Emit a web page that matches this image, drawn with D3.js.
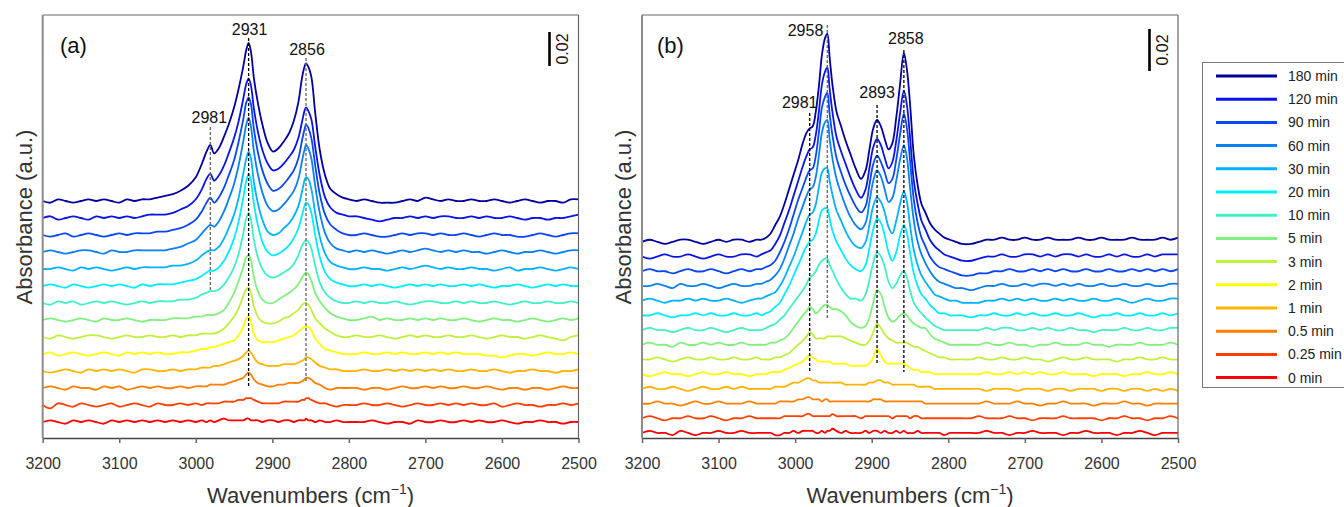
<!DOCTYPE html>
<html><head><meta charset="utf-8">
<script src="https://cdn.jsdelivr.net/npm/d3@7"></script>
<style>body{margin:0;background:#fff}svg{display:block;font-family:"Liberation Sans",Arial,sans-serif}</style>
</head><body>
<svg id="c" width="1344" height="507"></svg>
<script>
// ---------- DATA (absorbance in 0.001 units, relative to each trace's own baseline) ----------
const times = ["0 min","0.25 min","0.5 min","1 min","2 min","3 min","5 min","10 min","20 min","30 min","60 min","90 min","120 min","180 min"];
const colors = ["#ff0000","#ff4000","#ff8000","#ffb400","#ffff00","#bff03c","#80f07e","#40f0c6","#00ecff","#00b2ff","#0a80f5","#0a46f5","#0a14e6","#0000a0"];
const xTicks = [3200,3100,3000,2900,2800,2700,2600,2500];

const wnA = [3200,3190,3180,3170,3160,3150,3140,3130,3120,3110,3100,3090,3080,3070,3060,3050,
 3040,3030,3020,3010,3000,2992,2986,2981,2976,2970,2963,2957,2950,2944,2938,2934,2931,2928,2924,2919,
 2913,2906,2899,2892,2885,2878,2872,2866,2861,2858,2856,2853,2849,2844,2838,2831,2824,2816,2808,2800,
 2790,2780,2770,2760,2750,2740,2730,2720,2710,2700,2690,2680,2670,2660,2650,2640,2630,2620,2610,2600,
 2590,2580,2570,2560,2550,2540,2530,2520,2510,2500];

const a0 = [0,1,0,-1,1,0,1,0,-1,1,0,1,0,1,0,1,
 0,1,0,1,0,1,0,1,0,1, 2,1,1,1,1,2,2,1,1,1, 0,1,1,0,1,1,0,1,1,1, 2,1,1,0,1,0,0,1,0,0,
 0,0,1,0,-1,0,0,-1,1,0, 0,1,0,0,1,0,1,0,0,1, 0,-1,0,0,1,0,0,-1,0,0];
const a025 = [0,-2,1,0,-1,1,0,-1,0,1,-1,0,1,0,-1,1,
 0,0,1,0,1,0,1,1,1,1, 2,2,2,3,3,4,4,4,3,2, 1,1,1,1,2,2,2,2,3,3, 4,4,3,2,1,1,0,-1,0,0,
 0,1,0,0,1,0,-1,0,1,0, 0,1,0,1,0,1,0,0,1,-1, 0,1,0,0,-1,0,0,1,0,1];
const a05 = [0,1,0,-1,1,0,0,-1,1,0,1,-1,0,1,0,1,
 0,0,1,0,1,1,1,2,2,2, 2,3,4,5,6,8,9,8,5,3, 2,1,1,2,2,3,3,3,4,5, 6,6,5,3,2,0,-1,0,0,0,
 0,-1,0,0,-1,0,1,0,0,1, 0,1,0,0,1,0,0,1,0,-1, 0,0,-1,0,0,-1,0,1,0,0];
const a1 = [0,-1,0,1,0,-1,1,0,1,0,1,0,-1,1,1,0,
 0,1,0,1,1,2,2,2,3,3, 4,5,6,7,9,11,12,11,8,5, 4,3,3,3,4,4,4,5,6,7, 8,8,7,5,3,2,1,1,0,0,
 0,1,0,0,1,0,1,0,1,0, 1,0,1,0,0,1,0,0,1,0, -1,0,0,1,0,0,-1,0,0,1];
const a2 = [0,1,-1,0,1,0,-1,0,1,0,-1,1,0,1,0,1,
 0,0,1,1,2,3,3,4,4,5, 6,7,8,11,16,21,22,19,12,8, 7,7,7,8,9,10,11,13,15,16, 16,16,14,9,6,3,2,1,0,0,
 0,1,0,0,1,0,1,0,0,1, 0,1,0,1,0,0,0,-1,-1,-2, -1,0,0,-1,0,1,0,0,1,0];
const a3 = [0,-1,1,0,-1,0,1,1,0,-1,0,1,0,0,1,0,
 0,1,0,1,1,2,2,2,2,3, 5,8,12,17,24,28,29,26,18,12, 9,8,8,9,11,12,14,16,19,20, 20,19,16,11,8,5,3,1,0,0,
 1,0,0,1,0,-1,0,1,0,1, 0,0,1,0,0,1,0,-1,0,1, 0,0,-1,0,1,0,-1,-2,0,1];
const a5 = [0,1,0,-1,0,1,0,-1,1,0,0,1,0,-1,0,0,
 0,1,1,1,2,2,3,3,3,4, 6,10,16,23,31,37,38,35,25,17, 12,10,10,12,14,16,18,21,25,27, 28,27,23,16,11,7,4,2,1,0,
 0,1,2,0,1,0,0,1,0,1, 0,1,0,0,1,0,-1,0,1,0, 0,-1,0,1,0,-1,0,1,0,1];
const a10 = [0,-1,1,0,1,-1,0,1,0,1,0,-1,0,1,0,1,
 1,1,2,2,3,5,6,7,7,8, 11,15,21,29,41,50,53,49,37,27, 20,16,15,16,18,20,23,28,34,36, 37,36,32,22,12,6,3,1,0,0,
 1,0,1,0,0,1,0,-1,0,1, 1,0,0,1,0,1,0,0,1,0, -1,0,1,0,0,1,0,0,1,0];
const a20 = [0,1,0,-1,1,0,-1,0,1,0,1,0,-1,1,0,1,
 1,1,2,3,4,6,8,9,9,11, 15,20,28,38,52,62,66,62,48,36, 26,20,18,19,21,24,28,34,42,47, 49,48,43,30,17,8,4,2,1,0,
 0,1,0,1,0,-1,0,1,0,1, 0,1,0,0,1,0,1,0,-1,0, 0,1,0,-1,0,1,0,1,0,0];
const a30 = [0,0,1,0,-1,1,0,1,0,-1,0,1,0,1,1,1,
 1,2,2,3,5,8,10,11,11,13, 18,24,32,42,56,65,69,65,51,39, 29,22,20,21,24,27,31,37,46,52, 54,53,47,33,19,9,4,2,1,0,
 0,1,0,0,-1,0,1,0,1,2, 1,0,1,0,0,1,0,0,-1,0, 1,-1,0,0,1,0,-1,0,1,0];
const a60 = [0,1,0,-1,0,1,1,0,-1,1,0,0,1,1,1,1,
 1,2,3,5,7,11,14,16,15,18, 24,31,40,51,65,75,79,74,59,46, 35,27,24,25,28,32,36,43,54,60, 63,61,55,39,23,11,5,2,1,0,
 1,0,1,0,-1,0,1,0,1,2, 1,0,1,0,1,0,0,-1,0,1, 0,-1,0,0,1,0,-1,0,1,1];
const a90 = [0,-1,0,1,-1,0,1,0,-1,0,1,0,1,1,1,2,
 2,3,4,6,9,14,19,22,19,22, 28,35,44,55,68,78,81,77,62,49, 38,30,26,27,30,34,38,45,56,62, 65,63,57,41,24,12,6,3,1,0,
 0,1,0,-1,-1,0,1,0,1,1, 0,1,0,0,1,0,-1,0,1,0, 0,-1,-1,0,1,0,-1,0,1,1];
const a120 = [0,1,-1,0,1,0,-1,1,0,1,0,1,0,1,2,2,
 2,3,5,7,11,17,23,26,22,25, 31,38,47,57,70,79,82,78,64,51, 40,32,28,29,32,36,40,47,57,63, 65,63,58,42,25,12,6,3,2,1,
 1,0,-1,-2,-1,0,0,1,0,1, 0,1,1,0,0,1,0,1,0,0, 1,0,-1,0,0,-1,0,0,1,2];
const a180 = [0,-1,1,0,-1,0,1,0,1,0,-1,1,0,1,1,2,
 3,4,6,9,14,22,29,33,28,31, 38,45,55,66,79,89,93,88,72,58, 45,34,29,31,35,40,47,58,73,79, 81,79,73,52,30,15,7,4,2,1,
 0,1,0,-1,-1,-1,0,1,0,2, 1,0,1,0,0,1,0,0,1,0, -1,0,1,0,-1,0,0,-1,1,1];

const wnB = [3200,3190,3180,3170,3160,3150,3140,3130,3120,3110,3100,3090,3080,3070,3060,3050,
 3044,3038,3032,3026,3020,3014,3008,3002,2996,2990, 2985,2981,2977,2973,2969,2965,2961,2958,2955,2951,
 2946,2940,2934,2928,2921,2914,2908,2903,2898,2893, 2888,2883,2878,2873,2868,2863,2858,2854,2850,2845,
 2840,2835,2830,2824,2818,2812,2805,2798,2790,2782,
 2770,2760,2750,2740,2730,2720,2710,2700,2690,2680,2670,2660,2650,2640,2630,2620,2610,2600,
 2590,2580,2570,2560,2550,2540,2530,2520,2510,2500];

const b0 = [0,1,0,0,-1,1,0,-1,0,0,1,0,0,1,0,0,
 0,0,0,-1,-1,0,0,1,0,1, 1,1,1,0,0,1,0,1,1,2, 1,0,1,0,0,0,1,0,1,1, 0,1,0,0,1,0,1,0,0,0, 1,0,0,0,0,0,-1,0,0,0,
 0,0,1,0,0,-1,0,0,1,0, 0,0,-1,0,0,1,0,0,0,-1, 0,0,1,0,-1,0,0,0];
const b025 = [0,1,0,-1,0,0,1,0,0,1,0,-1,0,0,1,0,
 0,0,0,0,0,1,1,1,1,1, 2,2,1,1,1,1,1,1,1,2, 1,1,1,1,1,0,1,1,1,1, 1,1,1,0,1,1,1,1,0,1, 1,0,0,0,0,0,0,0,0,0,
 0,1,0,0,0,1,0,0,-1,0, 0,0,1,0,0,0,0,-1,0,0, 1,0,0,-1,0,0,1,0];
const b05 = [0,0,1,0,0,-1,0,1,0,0,1,0,0,0,1,0,
 0,0,0,0,1,1,1,1,2,2, 3,3,2,2,2,1,2,2,1,1, 1,1,1,1,1,1,1,1,2,2, 2,1,1,1,1,1,1,1,1,1, 1,1,0,0,0,0,0,0,0,0,
 0,0,1,0,0,0,1,0,0,-1, 0,0,1,0,0,0,-1,0,0,0, 1,0,0,-1,0,0,0,0];
const b1 = [0,1,0,0,1,0,-1,0,1,0,0,1,0,1,0,0,
 0,0,0,1,1,1,2,3,3,4, 5,5,4,4,3,3,3,3,3,3, 3,3,2,2,2,2,2,3,3,4, 4,3,3,2,2,2,2,2,2,2, 1,1,1,1,0,0,0,0,0,0,
 0,0,-1,0,0,0,-1,0,0,0, -1,0,0,-1,0,0,0,-1,0,0, -1,0,0,-1,0,-1,0,-1];
const b2 = [0,-1,0,1,0,0,-1,0,1,0,0,1,0,0,-1,0,
 0,0,1,1,1,2,3,4,5,6, 8,9,8,7,6,6,6,6,6,5, 5,5,5,4,4,4,4,5,8,12, 9,6,5,5,5,5,5,4,3,2, 2,1,1,1,0,0,0,0,0,0,
 0,0,1,0,0,1,0,1,0,1, 0,0,1,0,0,0,-1,0,0,0, -1,0,0,1,0,0,1,0];
const b3 = [0,0,1,0,-1,0,1,0,0,1,0,0,1,0,0,1,
 0,0,0,1,1,2,3,5,7,9, 11,13,12,10,10,10,10,11,11,11, 11,11,10,9,8,7,7,9,13,17, 15,12,10,9,8,8,8,8,7,6, 6,5,4,3,2,1,1,0,0,0,
 0,1,0,0,1,0,0,1,0,0, -1,0,1,0,0,1,0,0,0,-1, 0,0,1,0,0,1,0,0];
const b5 = [0,1,0,0,-1,1,0,0,1,0,1,0,0,1,0,0,
 0,0,1,1,2,3,5,8,11,14, 16,18,17,15,16,18,19,19,18,17, 17,16,14,11,9,8,9,13,20,26, 24,18,13,11,12,14,15,14,12,10, 9,8,8,5,3,2,1,0,0,0,
 0,0,1,0,0,1,0,0,-1,0, 0,1,0,0,0,1,0,0,-1,0, 0,0,1,0,0,0,1,0];
const b10 = [0,1,0,0,-1,0,1,0,0,1,0,-1,0,1,0,0,
 0,1,2,3,5,7,10,13,16,19, 22,25,26,28,31,33,34,34,31,28, 24,20,17,15,15,14,17,24,32,37, 35,30,23,20,22,26,28,25,19,13, 10,8,6,4,2,1,0,0,0,0,
 0,0,1,0,1,1,0,0,1,0, 1,0,0,1,0,0,-1,0,0,0, 1,0,0,1,0,0,1,1];
const b20 = [0,0,1,0,-1,0,0,1,0,1,0,0,1,0,0,1,
 0,1,2,4,6,10,14,19,24,29, 33,35,36,39,45,50,51,51,46,40, 35,31,27,24,22,21,24,32,41,46, 44,38,30,26,30,38,43,39,30,20, 14,10,8,5,3,1,1,0,0,0,
 -1,0,0,1,0,0,1,0,1,0, 0,1,0,0,1,0,-1,0,0,1, 0,0,1,0,0,1,0,1];
const b30 = [0,1,0,-1,0,0,1,0,1,0,0,1,0,-1,0,1,
 1,2,3,4,7,11,16,21,27,33, 38,41,42,46,54,61,63,63,57,50, 43,38,33,29,26,25,28,36,45,49, 47,42,35,32,38,46,52,47,36,24, 17,12,9,6,3,2,1,0,0,-1,
 -1,-1,0,0,1,0,1,0,1,0, 0,1,0,1,0,0,1,0,0,1, 0,-1,0,1,0,0,1,1];
const b60 = [0,0,1,0,-1,1,0,0,1,0,-1,0,1,0,0,1,
 1,2,3,5,8,13,19,25,32,38, 43,46,47,52,62,73,78,79,70,60, 51,44,38,33,29,27,30,40,50,55, 52,46,40,42,50,60,67,61,47,31, 21,15,11,7,4,2,1,0,-1,-1,
 -2,-1,0,0,1,0,0,1,0,1, 1,0,1,0,1,0,0,1,0,0, 1,0,0,1,0,0,1,1];
const b90 = [0,1,0,0,-1,0,1,0,0,1,0,-1,0,1,0,1,
 1,2,3,5,9,14,20,27,34,40, 45,48,49,55,66,78,83,85,75,64, 54,47,41,36,31,28,31,41,51,55, 52,47,42,44,53,65,75,68,53,34, 23,16,12,7,4,2,1,0,-1,-2,
 -2,-1,-1,0,0,1,0,0,1,0, 1,0,1,0,0,1,0,0,1,0, 0,1,0,1,0,1,0,1];
const b120 = [0,-1,0,1,0,0,1,0,-1,0,1,0,0,1,1,0,
 1,2,3,6,10,16,22,29,36,43, 48,51,52,58,69,82,88,90,80,68, 57,50,44,38,32,28,32,42,52,56, 53,47,42,45,55,68,79,72,57,36, 25,17,13,8,5,3,1,0,-1,-2,
 -2,-1,0,0,1,0,0,1,1,0, 1,0,1,1,0,1,0,0,1,0, 1,0,0,1,0,1,1,1];
const b180 = [0,1,0,-1,0,1,1,0,-1,0,1,0,1,1,0,1,
 1,2,4,8,12,18,25,32,39,47, 52,54,55,62,74,89,97,99,88,74, 62,55,48,42,35,30,34,44,54,58, 55,49,44,47,59,75,90,82,66,41, 27,18,14,9,6,4,2,1,0,-1,
 -1,0,1,1,2,1,1,2,1,1, 2,1,1,1,2,1,1,2,1,1, 1,2,1,1,1,2,1,2];

const seriesA = [a0,a025,a05,a1,a2,a3,a5,a10,a20,a30,a60,a90,a120,a180];
const seriesB = [b0,b025,b05,b1,b2,b3,b5,b10,b20,b30,b60,b90,b120,b180];
const stepA = 0.010, stepB = 0.007;          // vertical stacking of the traces
const scaleBarValue = 0.02;

// ---------- LAYOUT ----------
const svg = d3.select("#c");
const plotTop = 15, plotBottom = 438;
const panels = [
  {id:"a", x0:42.7, x1:578.5, series:seriesA, wn:wnA, step:stepA, yDom:[-0.0094,0.2394], barTop:32, barX:549.5, barTextX:568, label:"(a)", labelX:60,
   ann:[{wn:2931,t:"2931",y1:38,y2:386,c:"#000",dx:1,ly:35,anchor:"middle"},
        {wn:2856,t:"2856",y1:58,y2:383,c:"#666",dx:1,ly:55,anchor:"middle"},
        {wn:2981,t:"2981",y1:127,y2:292,c:"#666",dx:-1,ly:123,anchor:"middle"}], titleX:32},
  {id:"b", x0:642, x1:1178, series:seriesB, wn:wnB, step:stepB, yDom:[-0.0024,0.199], barTop:29, barX:1149.5, barTextX:1168, label:"(b)", labelX:657,
   ann:[{wn:2958,t:"2958",y1:25,y2:319,c:"#666",dx:-4,ly:36,anchor:"end"},
        {wn:2981,t:"2981",y1:113,y2:373,c:"#000",dx:-10,ly:108,anchor:"middle"},
        {wn:2893,t:"2893",y1:105,y2:365,c:"#000",dx:0,ly:98,anchor:"middle"},
        {wn:2858,t:"2858",y1:50,y2:372,c:"#000",dx:2,ly:44,anchor:"middle"}], titleX:631}
];

panels.forEach(p => {
  const x = d3.scaleLinear().domain([3200,2500]).range([p.x0,p.x1]);
  const y = d3.scaleLinear().domain(p.yDom).range([plotBottom,plotTop]);
  const g = svg.append("g");

  const line = d3.line().curve(d3.curveCatmullRom.alpha(0.5));
  p.series.forEach((s,i) => {
    const n = Math.min(s.length, p.wn.length);
    if (s.length !== p.wn.length) console.error("length mismatch", p.id, i, s.length, p.wn.length);
    const pts = d3.range(n).map(k => [x(p.wn[k]), y(s[k]/1000 + i*p.step)]);
    g.append("path").attr("d", line(pts)).attr("fill","none")
      .attr("stroke", colors[i]).attr("stroke-width",1.8).attr("stroke-linejoin","round");
  });

  p.ann.forEach(a => {
    g.append("line").attr("x1",x(a.wn)).attr("x2",x(a.wn)).attr("y1",a.y1).attr("y2",a.y2)
      .attr("stroke",a.c).attr("stroke-width",1.3).attr("stroke-dasharray","3,2");
    g.append("text").attr("x",x(a.wn)+a.dx).attr("y",a.ly).attr("text-anchor",a.anchor)
      .attr("font-size",16).attr("fill","#111").text(a.t);
  });

  g.append("line").attr("x1",p.x0).attr("x2",p.x1).attr("y1",plotTop).attr("y2",plotTop).attr("stroke","#666").attr("stroke-width",1.2);
  g.append("line").attr("x1",p.x1).attr("x2",p.x1).attr("y1",plotTop).attr("y2",plotBottom).attr("stroke","#666").attr("stroke-width",1.2);
  g.append("line").attr("x1",p.x0).attr("x2",p.x0).attr("y1",plotTop).attr("y2",plotBottom).attr("stroke","#8c8c8c").attr("stroke-width",2);

  const ax = g.append("g").attr("transform",`translate(0,${plotBottom})`)
    .call(d3.axisBottom(x).tickValues(xTicks).tickFormat(d3.format("d")).tickSize(5).tickSizeOuter(0).tickPadding(14.6));
  ax.select(".domain").attr("stroke","#444").attr("stroke-width",1.5);
  ax.selectAll(".tick line").attr("stroke","#666").attr("stroke-width",1.5);
  ax.selectAll(".tick text").attr("font-size",16).attr("fill","#333").attr("font-family","Liberation Sans, Arial, sans-serif");

  const xt = g.append("text").attr("x",(p.x0+p.x1)/2).attr("y",503).attr("text-anchor","middle")
    .attr("font-size",22).attr("fill","#333");
  xt.append("tspan").text("Wavenumbers (cm");
  xt.append("tspan").attr("font-size",14).attr("dy",-9).text("\u22121");
  xt.append("tspan").attr("dy",9).text(")");
  g.append("text").attr("transform",`translate(${p.titleX},217) rotate(-90)`).attr("text-anchor","middle")
    .attr("font-size",22).attr("fill","#333").text("Absorbance (a.u.)");

  g.append("text").attr("x",p.labelX).attr("y",53).attr("font-size",22).attr("fill","#111").text(p.label);

  const v1 = y.invert(p.barTop), v0 = v1 - scaleBarValue;
  g.append("line").attr("x1",p.barX).attr("x2",p.barX).attr("y1",y(v1)).attr("y2",y(v0))
    .attr("stroke","#000").attr("stroke-width",2.6);
  g.append("text").attr("transform",`translate(${p.barTextX},${(y(v1)+y(v0))/2}) rotate(-90)`)
    .attr("text-anchor","middle").attr("font-size",16).attr("fill","#111").text("0.02");
});

const lg = svg.append("g");
lg.append("rect").attr("x",1202.5).attr("y",62.5).attr("width",160).attr("height",325)
  .attr("fill","none").attr("stroke","#777").attr("stroke-width",1);
const order = d3.range(times.length).reverse();
order.forEach((si,row) => {
  const yy = 76 + row*23.2;
  lg.append("line").attr("x1",1216).attr("x2",1277).attr("y1",yy).attr("y2",yy)
    .attr("stroke",colors[si]).attr("stroke-width",3);
  lg.append("text").attr("x",1288).attr("y",yy+5).attr("font-size",14).attr("fill","#222").text(times[si]);
});
</script>
</body></html>
